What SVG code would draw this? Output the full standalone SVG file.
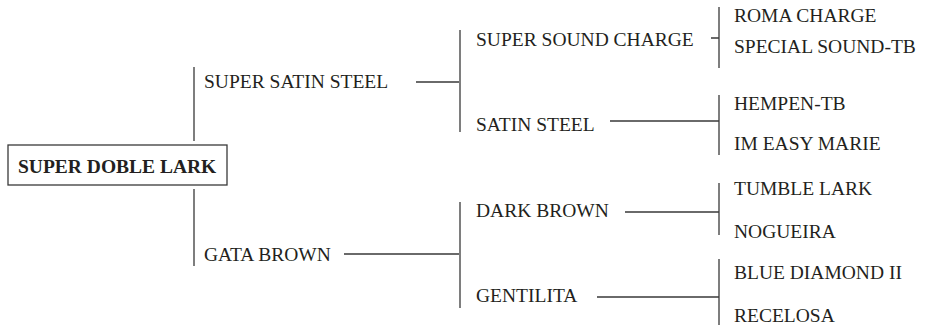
<svg xmlns="http://www.w3.org/2000/svg" width="927" height="325" viewBox="0 0 927 325">
<style>
text{font-family:"Liberation Serif","Times New Roman",serif;font-size:19.5px;fill:#231f20}
.b{font-weight:bold}
.ln{stroke:#3a3a3a;stroke-width:1.3;fill:none}
.box{stroke:#3a3a3a;stroke-width:1.3;fill:#fff}
</style>
<rect width="927" height="325" fill="#fff"/>
<g id="connectors">
<path class="ln" d="M194,67V141M194,189V266"/>
<path class="ln" d="M416,82H459M460,30V132"/>
<path class="ln" d="M344,254H459M460,202V308"/>
<path class="ln" d="M711,38H719M719,7V68"/>
<path class="ln" d="M610,121H719M719,95V155"/>
<path class="ln" d="M625,212H719M719,183V235"/>
<path class="ln" d="M597,297H719M719,259V325"/>
</g>
<g id="n-root"><rect class="box" x="8" y="145" width="219" height="40"/><text class="b" x="18" y="173">SUPER DOBLE LARK</text></g>
<g id="n-super-satin-steel"><text x="204" y="88">SUPER SATIN STEEL</text></g>
<g id="n-gata-brown"><text x="204" y="261">GATA BROWN</text></g>
<g id="n-super-sound-charge"><text x="476" y="46">SUPER SOUND CHARGE</text></g>
<g id="n-satin-steel"><text x="476" y="131">SATIN STEEL</text></g>
<g id="n-dark-brown"><text x="476" y="217">DARK BROWN</text></g>
<g id="n-gentilita"><text x="476" y="302">GENTILITA</text></g>
<g id="n-roma-charge"><text x="734" y="22">ROMA CHARGE</text></g>
<g id="n-special-sound-tb"><text x="734" y="53">SPECIAL SOUND-TB</text></g>
<g id="n-hempen-tb"><text x="734" y="110">HEMPEN-TB</text></g>
<g id="n-im-easy-marie"><text x="734" y="150">IM EASY MARIE</text></g>
<g id="n-tumble-lark"><text x="734" y="195">TUMBLE LARK</text></g>
<g id="n-nogueira"><text x="734" y="238">NOGUEIRA</text></g>
<g id="n-blue-diamond-ii"><text x="734" y="279">BLUE DIAMOND II</text></g>
<g id="n-recelosa"><text x="734" y="322">RECELOSA</text></g>
</svg>
